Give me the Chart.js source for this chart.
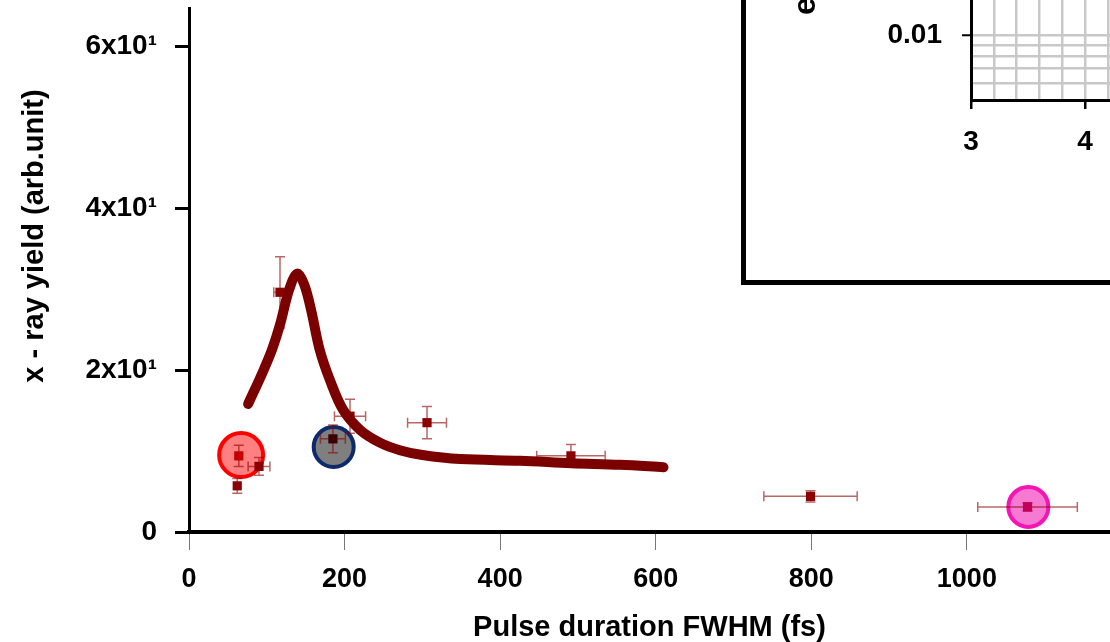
<!DOCTYPE html>
<html>
<head>
<meta charset="utf-8">
<script src="https://cdn.jsdelivr.net/npm/chart.js@4.4.1/dist/chart.umd.min.js"></script>
<style>
  html, body { margin: 0; padding: 0; background: #fff; overflow: hidden; }
  #wrap { position: relative; width: 1110px; height: 642px; overflow: hidden; }
  canvas { display: block; }
  #inset { position: absolute; left: 741px; top: -20px; width: 396px; height: 295px; border: 5px solid #000; background: #fff; }
</style>
</head>
<body>
<div id="wrap">
  <canvas id="main" width="1110" height="642"></canvas>
  <div id="inset"><canvas id="insetChart" width="396" height="295"></canvas></div>
</div>
<script>
// measured points (pulse duration in fs, x-ray yield in arb. units)
const pulseFs   = [62, 64, 90, 117, 185, 207, 306, 491, 799, 1078];
const xrayYield = [5.7, 9.4, 8.1, 29.6, 11.5, 14.3, 13.5, 9.4, 4.4, 3.1];
const pulseErr  = [0, 0, 14, 8, 16, 20, 25, 44, 60, 64];
const yieldErr  = [0.9, 1.3, 1.1, 4.4, 1.7, 2.1, 2.0, 1.4, 0.7, 0.5];

// thick model curve
const curveFs    = [76, 95, 107, 117, 129, 139, 148, 157, 168, 181, 198, 220, 246, 271, 300, 349, 426, 491, 554, 610];
const curveYield = [15.8, 19.8, 22.6, 25.6, 30.0, 31.9, 30.6, 27.4, 22.5, 18.8, 15.1, 12.6, 11.0, 10.1, 9.5, 9.0, 8.8, 8.5, 8.3, 8.0];

// highlighted points (circled)
const markedFs    = [67, 186, 1079];
const markedYield = [9.5, 10.5, 3.1];

const xTicks = [0, 200, 400, 600, 800, 1000];
const yTicks = [0, 20, 40, 60];
const yTickLabels = ['0', '2x10¹', '4x10¹', '6x10¹'];

// inset axes
const insetXTicks = [3, 3.2, 3.4, 3.6, 3.8, 4, 4.2, 4.4];
const insetYTicks = [0.005, 0.006, 0.007, 0.008, 0.009, 0.01];

// styles
const pointColors = ['#8b0000', '#c40000', '#8b0000', '#8b0000', '#3c0000', '#8b0000', '#8b0000', '#8b0000', '#8b0000', '#c4005a'];
const markFill   = ['#ff8080', '#7f7f7f', '#f77ad2'];
const markBorder = ['#ff0000', '#0c2a6c', '#f514b4'];
const markRadius = [22, 20, 20];

Chart.defaults.font.family = '"Liberation Sans", Arial, sans-serif';
Chart.defaults.font.weight = 'bold';
Chart.defaults.color = '#000';

// fixed axis sizes, and no extra room for edge labels
const fixSize = (w, h) => s => {
    if (w !== null) s.width = w;
    if (h !== null) s.height = h;
    s.paddingLeft = s.paddingRight = s.paddingTop = s.paddingBottom = 0;
};

const errorBars = {
    id: 'errorBars',
    beforeDatasetDraw(chart, args) {
        if (args.index !== 1) return;
        const { ctx, scales: { x, y } } = chart;
        const cap = 5;
        ctx.save();
        ctx.strokeStyle = 'rgba(139, 0, 0, 0.6)';
        ctx.lineWidth = 1.5;
        pulseFs.forEach((v, i) => {
            const px = x.getPixelForValue(v);
            const py = y.getPixelForValue(xrayYield[i]);
            ctx.beginPath();
            if (pulseErr[i] > 0) {
                const x0 = x.getPixelForValue(v - pulseErr[i]);
                const x1 = x.getPixelForValue(v + pulseErr[i]);
                ctx.moveTo(x0, py); ctx.lineTo(x1, py);
                ctx.moveTo(x0, py - cap); ctx.lineTo(x0, py + cap);
                ctx.moveTo(x1, py - cap); ctx.lineTo(x1, py + cap);
            }
            if (yieldErr[i] > 0) {
                const y0 = y.getPixelForValue(xrayYield[i] - yieldErr[i]);
                const y1 = y.getPixelForValue(xrayYield[i] + yieldErr[i]);
                ctx.moveTo(px, y0); ctx.lineTo(px, y1);
                ctx.moveTo(px - cap, y0); ctx.lineTo(px + cap, y0);
                ctx.moveTo(px - cap, y1); ctx.lineTo(px + cap, y1);
            }
            ctx.stroke();
        });
        ctx.restore();
    }
};

// y title sits a bit above the middle of the visible axis
const mainYTitle = {
    id: 'mainYTitle',
    afterDraw(chart) {
        const ctx = chart.ctx;
        ctx.save();
        ctx.translate(35, 236);
        ctx.rotate(-Math.PI / 2);
        ctx.font = 'bold 29px "Liberation Sans", Arial, sans-serif';
        ctx.fillStyle = '#000';
        ctx.textAlign = 'center';
        ctx.textBaseline = 'middle';
        ctx.fillText('x - ray yield (arb.unit)', 0, 0);
        ctx.restore();
    }
};

new Chart(document.getElementById('main'), {
    type: 'scatter',
    data: {
        datasets: [
            {
                data: curveFs.map((v, i) => ({ x: v, y: curveYield[i] })),
                showLine: true,
                borderColor: '#7b0000',
                borderWidth: 10,
                borderCapStyle: 'round',
                borderJoinStyle: 'round',
                pointRadius: 0,
                tension: 0.35,
                order: 1
            },
            {
                data: pulseFs.map((v, i) => ({ x: v, y: xrayYield[i] })),
                pointStyle: 'rect',
                pointRadius: 6.5,
                pointBackgroundColor: pointColors,
                pointBorderWidth: 0,
                order: 2
            },
            {
                data: markedFs.map((v, i) => ({ x: v, y: markedYield[i] })),
                pointStyle: 'circle',
                pointRadius: markRadius,
                pointBackgroundColor: markFill,
                pointBorderColor: markBorder,
                pointBorderWidth: 4,
                order: 3
            }
        ]
    },
    options: {
        responsive: false,
        devicePixelRatio: 1,
        animation: false,
        events: [],
        layout: { autoPadding: false, padding: { top: 8, right: 0, bottom: 0, left: 0 } },
        plugins: { legend: { display: false }, tooltip: { enabled: false } },
        scales: {
            x: {
                type: 'linear',
                min: 0,
                max: 1184,
                afterBuildTicks: s => { s.ticks = xTicks.map(v => ({ value: v })); },
                afterFit: fixSize(null, 110),
                border: { display: true, color: '#000', width: 4 },
                grid: { display: true, drawOnChartArea: false, drawTicks: true, tickLength: 18, tickColor: '#777', tickWidth: 1 },
                ticks: {
                    font: { size: 27, weight: 'bold' },
                    padding: 13,
                    maxRotation: 0,
                    autoSkip: false,
                    callback: v => String(v)
                },
                title: {
                    display: true,
                    text: 'Pulse duration FWHM (fs)',
                    font: { size: 29, weight: 'bold', lineHeight: 1 },
                    padding: { top: 0, bottom: 0 }
                }
            },
            y: {
                type: 'linear',
                min: 0,
                max: 64.7,
                afterBuildTicks: s => { s.ticks = yTicks.map(v => ({ value: v })); },
                afterFit: fixSize(189, null),
                border: { display: true, color: '#000', width: 3 },
                grid: { display: true, drawOnChartArea: false, drawTicks: true, tickLength: 14, tickColor: '#000', tickWidth: 3 },
                ticks: {
                    font: { size: 28, weight: 'bold' },
                    padding: 18,
                    callback: v => yTickLabels[yTicks.indexOf(v)]
                }
            }
        }
    },
    plugins: [errorBars, mainYTitle]
});

// inset: only its lower-left corner is in view
const insetTitle = {
    id: 'insetTitle',
    afterDraw(chart) {
        const ctx = chart.ctx;
        ctx.save();
        ctx.translate(69, 30);
        ctx.rotate(-Math.PI / 2);
        ctx.font = 'bold 32px "Liberation Sans", Arial, sans-serif';
        ctx.fillStyle = '#000';
        ctx.textAlign = 'left';
        ctx.textBaseline = 'alphabetic';
        ctx.fillText('emission (arb.unit)', 0, 0);
        ctx.restore();
    }
};

new Chart(document.getElementById('insetChart'), {
    type: 'scatter',
    data: { datasets: [{ data: [] }] },
    options: {
        responsive: false,
        devicePixelRatio: 1,
        animation: false,
        events: [],
        layout: { autoPadding: false, padding: 0 },
        plugins: { legend: { display: false }, tooltip: { enabled: false } },
        scales: {
            x: {
                type: 'linear',
                min: 3,
                max: 4.5,
                afterBuildTicks: s => { s.ticks = insetXTicks.map(v => ({ value: v })); },
                afterFit: fixSize(null, 180),
                border: { display: true, color: '#000', width: 3 },
                grid: {
                    color: '#c8c8c8',
                    lineWidth: 2.5,
                    tickLength: 9,
                    tickWidth: 2.5,
                    tickColor: c => (c.tick && Number.isInteger(c.tick.value)) ? '#000' : 'rgba(0,0,0,0)'
                },
                ticks: {
                    font: { size: 28, weight: 'bold' },
                    padding: 16,
                    maxRotation: 0,
                    autoSkip: false,
                    callback: v => Number.isInteger(v) ? String(v) : ''
                }
            },
            y: {
                type: 'logarithmic',
                min: 0.005,
                max: 0.017,
                afterBuildTicks: s => { s.ticks = insetYTicks.map(v => ({ value: v })); },
                afterFit: fixSize(225, null),
                border: { display: true, color: '#000', width: 3 },
                grid: {
                    color: '#c8c8c8',
                    lineWidth: 2.5,
                    tickLength: 9,
                    tickWidth: 2,
                    tickColor: c => (c.tick && c.tick.value === 0.01) ? '#000' : 'rgba(0,0,0,0)'
                },
                ticks: {
                    font: { size: 28, weight: 'bold' },
                    padding: 20,
                    autoSkip: false,
                    callback: v => v === 0.01 ? '0.01' : ''
                }
            }
        }
    },
    plugins: [insetTitle]
});
</script>
</body>
</html>
